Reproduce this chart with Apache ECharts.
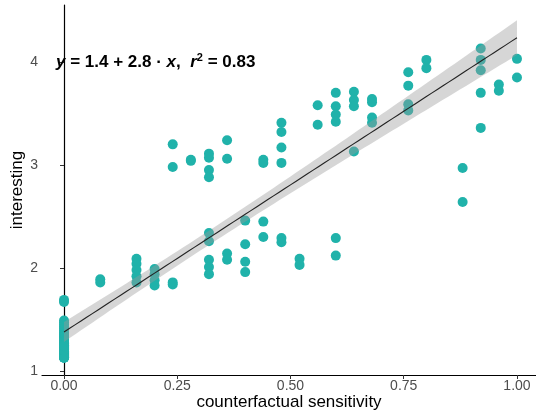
<!DOCTYPE html>
<html><head><meta charset="utf-8">
<script src="https://cdn.jsdelivr.net/npm/echarts@6/dist/echarts.min.js"></script>
<style>html,body{margin:0;padding:0;background:#fff}#c{width:536px;height:415px}</style>
</head><body><div id="c"></div>
<script>
// counterfactual sensitivity values (x) and the 'interesting' ratings observed at each
const sensitivity = [0, 0.08, 0.16, 0.20, 0.24, 0.28, 0.32, 0.36, 0.40, 0.44, 0.48, 0.52, 0.56, 0.60, 0.64, 0.68, 0.76, 0.80, 0.88, 0.92, 0.96, 1.00];
const interesting = [
  [1.69, 1.67, 1.49, 1.47, 1.45, 1.43, 1.41, 1.39, 1.37, 1.36, 1.35, 1.34, 1.33, 1.32, 1.31, 1.30, 1.30, 1.29, 1.28, 1.27,
   1.27, 1.26, 1.25, 1.25, 1.24, 1.23, 1.23, 1.22, 1.21, 1.21, 1.20, 1.19, 1.19, 1.18, 1.17, 1.17, 1.16, 1.15, 1.15, 1.14,
   1.13, 1.13, 1.13, 1.25, 1.22, 1.18, 1.16, 1.14, 1.13, 1.20, 1.24],
  [1.89, 1.86],
  [2.09, 2.04, 1.98, 1.92, 1.86],
  [1.99, 1.94, 1.88, 1.83],
  [3.20, 2.98, 1.86, 1.84],
  [3.05, 3.04],
  [3.11, 3.07, 2.95, 2.88, 2.34, 2.26, 2.08, 2.01, 1.94],
  [3.24, 3.06, 2.14, 2.08],
  [2.46, 2.23, 2.06, 1.96],
  [3.05, 3.02, 2.45, 2.30],
  [3.41, 3.32, 3.17, 3.02, 2.29, 2.25],
  [2.09, 2.03],
  [3.58, 3.39],
  [3.70, 3.57, 3.49, 3.42, 2.29, 2.12],
  [3.71, 3.63, 3.57, 3.13],
  [3.64, 3.61, 3.46, 3.41],
  [3.90, 3.77, 3.59, 3.53],
  [4.02, 3.94],
  [2.97, 2.64],
  [4.13, 4.02, 3.92, 3.70, 3.36],
  [3.78, 3.72],
  [4.03, 3.85]
];
const xTicks = [0, 0.25, 0.5, 0.75, 1];
const xTickLabels = ['0.00', '0.25', '0.50', '0.75', '1.00'];
const yTicks = [1, 2, 3, 4];
const yTickLabels = ['1', '2', '3', '4'];

// flatten points
const points = [];
sensitivity.forEach((x, i) => interesting[i].forEach(y => points.push([x, y])));

// linear fit + 95% confidence band (like geom_smooth(method = 'lm'))
const n = points.length;
const xm = points.reduce((s, p) => s + p[0], 0) / n;
const ym = points.reduce((s, p) => s + p[1], 0) / n;
let sxx = 0, sxy = 0;
points.forEach(p => { sxx += (p[0] - xm) ** 2; sxy += (p[0] - xm) * (p[1] - ym); });
const slope = sxy / sxx, intercept = ym - slope * xm;
let sse = 0;
points.forEach(p => { sse += (p[1] - intercept - slope * p[0]) ** 2; });
const sres = Math.sqrt(sse / (n - 2));
const tq = 1.98;
const xmin = Math.min(...sensitivity), xmax = Math.max(...sensitivity);
const fitLine = [], bandUp = [], bandLo = [];
for (let k = 0; k <= 80; k++) {
  const x = xmin + (xmax - xmin) * k / 80;
  const yh = intercept + slope * x;
  const se = sres * Math.sqrt(1 / n + (x - xm) ** 2 / sxx);
  fitLine.push([x, yh]);
  bandUp.push([x, yh + tq * se]);
  bandLo.push([x, yh - tq * se]);
}

const FONT = '"Liberation Sans", Arial, sans-serif';
const chart = echarts.init(document.getElementById('c'), null, {renderer: 'canvas'});
chart.setOption({
  animation: false,
  backgroundColor: '#ffffff',
  grid: {left: 42, right: 0, top: 5, bottom: 40, containLabel: false, outerBoundsMode: 'none'},
  xAxis: {
    type: 'value', min: -0.0486, max: 1.042,
    name: 'counterfactual sensitivity', nameLocation: 'middle', nameGap: 19, nameMoveOverlap: false,
    nameTextStyle: {fontSize: 17, color: '#000', fontFamily: FONT},
    splitLine: {show: false},
    axisLine: {show: true, lineStyle: {color: '#000', width: 1.2}},
    axisTick: {show: true, customValues: xTicks, length: 4, lineStyle: {color: '#333', width: 1}},
    axisLabel: {customValues: xTicks, margin: 4, fontSize: 14, color: '#4D4D4D', fontFamily: FONT,
      formatter: v => xTickLabels[xTicks.findIndex(t => Math.abs(t - v) < 1e-9)] || ''}
  },
  yAxis: {
    type: 'value', min: 0.961, max: 4.553,
    name: 'interesting', nameLocation: 'middle', nameGap: 16, nameRotate: 90, nameMoveOverlap: false,
    nameTextStyle: {fontSize: 17, color: '#000', fontFamily: FONT},
    splitLine: {show: false},
    axisLine: {show: true, lineStyle: {color: '#000', width: 1.2}},
    axisTick: {show: true, customValues: yTicks, length: 4, lineStyle: {color: '#333', width: 1}},
    axisLabel: {customValues: yTicks, margin: 4, fontSize: 14, color: '#4D4D4D', fontFamily: FONT,
      formatter: v => yTickLabels[yTicks.findIndex(t => Math.abs(t - v) < 1e-9)] || ''}
  },
  series: [
    {
      type: 'scatter', data: points, symbolSize: 10, z: 2,
      itemStyle: {color: '#20B2AA', opacity: 1}
    },
    {
      type: 'custom', z: 3, data: [[xmin, intercept]],
      renderItem: (params, api) => {
        const pts = bandUp.map(p => api.coord(p)).concat(bandLo.slice().reverse().map(p => api.coord(p)));
        return {type: 'polygon', shape: {points: pts}, style: {fill: 'rgba(153,153,153,0.4)'}};
      }
    },
    {
      type: 'line', data: fitLine, symbol: 'none', z: 4,
      lineStyle: {color: '#222', width: 1.1}
    }
  ],
  graphic: [{
    type: 'text', left: 56, top: 52, z: 10,
    style: {
      text: '{i|y}{n| = 1.4 + 2.8 · }{i|x}{n|,  }{i|r}{s|2}{n| = 0.83}',
      rich: {
        i: {fontSize: 17, fontWeight: 'bold', fontStyle: 'italic', fontFamily: FONT, fill: '#000'},
        n: {fontSize: 17, fontWeight: 'bold', fontFamily: FONT, fill: '#000'},
        s: {fontSize: 11, fontWeight: 'bold', fontFamily: FONT, fill: '#000', verticalAlign: 'top', padding: [0, 0, 10, 0]}
      }
    }
  }]
});
</script></body></html>
